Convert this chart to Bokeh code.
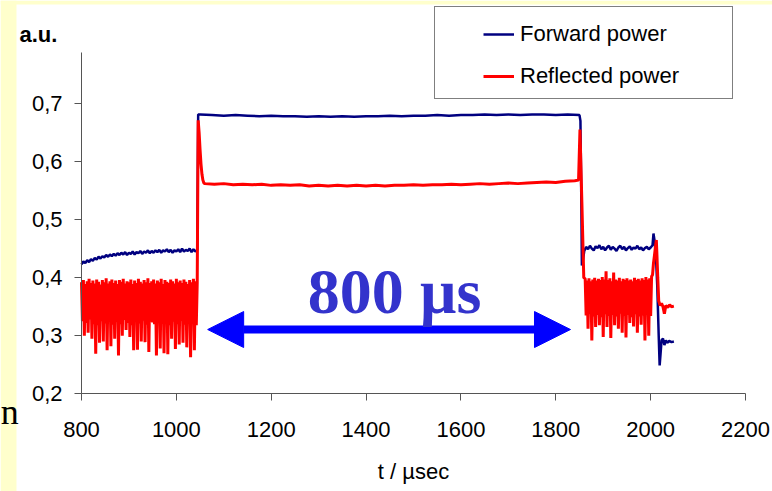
from bokeh.plotting import figure
from bokeh.models import (Range1d, FixedTicker, CustomJSTickFormatter, Legend, LegendItem,
                          Arrow, NormalHead, Label, BoxAnnotation)
from bokeh.embed import file_html
from bokeh.resources import INLINE

# ---------------- data ----------------
x_ticks = [800, 1000, 1200, 1400, 1600, 1800, 2000, 2200]
y_ticks = [0.2, 0.3, 0.4, 0.5, 0.6, 0.7]

# Forward power
fwd_t1 = list(range(800, 1045, 4))
fwd_v1 = [0.423, 0.428, 0.425, 0.430, 0.427, 0.432, 0.429, 0.434, 0.431, 0.436,
          0.433, 0.437, 0.435, 0.439, 0.436, 0.440, 0.437, 0.441, 0.438, 0.442,
          0.439, 0.443, 0.440, 0.444, 0.439, 0.443, 0.441, 0.445, 0.440, 0.444,
          0.442, 0.446, 0.441, 0.445, 0.443, 0.447, 0.442, 0.446, 0.443, 0.447,
          0.444, 0.448, 0.443, 0.447, 0.445, 0.449, 0.444, 0.448, 0.443, 0.447,
          0.445, 0.449, 0.444, 0.450, 0.445, 0.448, 0.446, 0.450, 0.444, 0.449,
          0.445, 0.448]
fwd_t2 = [1046] + list(range(1050, 1851, 25))
fwd_v2 = [0.681,
          0.681, 0.680, 0.679, 0.680, 0.679, 0.678, 0.679, 0.678, 0.678, 0.677,
          0.678, 0.677, 0.678, 0.677, 0.678, 0.678, 0.679, 0.678, 0.679, 0.679,
          0.680, 0.679, 0.680, 0.680, 0.681, 0.680, 0.681, 0.680, 0.681, 0.681,
          0.680, 0.681, 0.680]
fwd_t3 = [1852, 1854, 1855, 1857]
fwd_v3 = [0.670, 0.520, 0.421, 0.428]
fwd_t4 = list(range(1860, 2005, 4))
fwd_v4 = [0.446, 0.453, 0.449, 0.455, 0.450, 0.447, 0.454, 0.451, 0.456, 0.449,
          0.453, 0.447, 0.452, 0.455, 0.448, 0.453, 0.450, 0.446, 0.452, 0.455,
          0.449, 0.453, 0.447, 0.451, 0.454, 0.448, 0.452, 0.450, 0.455, 0.449,
          0.452, 0.447, 0.451, 0.453, 0.449, 0.452, 0.456]
fwd_t5 = [2006, 2008, 2011, 2014, 2017, 2019, 2021, 2023, 2026, 2029, 2032, 2035, 2039, 2044, 2049]
fwd_v5 = [0.476, 0.465, 0.440, 0.385, 0.300, 0.249, 0.270, 0.292, 0.295, 0.284,
          0.292, 0.288, 0.291, 0.289, 0.290]

# Reflected power
red_t1 = list(range(800, 1045, 2))
red_v1 = [0.392, 0.325, 0.396, 0.300, 0.389, 0.322, 0.394, 0.305, 0.398, 0.328,
          0.391, 0.295, 0.395, 0.320, 0.390, 0.269, 0.397, 0.318, 0.393, 0.288,
          0.388, 0.325, 0.396, 0.290, 0.392, 0.321, 0.399, 0.275, 0.390, 0.326,
          0.394, 0.282, 0.397, 0.319, 0.391, 0.295, 0.395, 0.324, 0.389, 0.266,
          0.396, 0.320, 0.393, 0.300, 0.398, 0.327, 0.390, 0.310, 0.394, 0.322,
          0.392, 0.298, 0.397, 0.318, 0.389, 0.275, 0.395, 0.325, 0.391, 0.276,
          0.398, 0.321, 0.393, 0.290, 0.390, 0.326, 0.396, 0.289, 0.392, 0.319,
          0.399, 0.272, 0.391, 0.324, 0.394, 0.323, 0.397, 0.320, 0.390, 0.266,
          0.395, 0.327, 0.392, 0.278, 0.398, 0.321, 0.389, 0.270, 0.396, 0.325,
          0.393, 0.268, 0.391, 0.318, 0.397, 0.295, 0.394, 0.324, 0.390, 0.277,
          0.398, 0.320, 0.392, 0.285, 0.395, 0.326, 0.391, 0.288, 0.397, 0.319,
          0.393, 0.280, 0.389, 0.325, 0.396, 0.263, 0.392, 0.321, 0.398, 0.275,
          0.394, 0.318, 0.391]
red_t2 = [1046, 1048, 1050, 1052, 1054, 1056, 1058]
red_v2 = [0.671, 0.650, 0.620, 0.595, 0.578, 0.568, 0.563]
red_t3 = list(range(1060, 1841, 20))
red_v3 = [0.562, 0.561, 0.562, 0.560, 0.561, 0.560, 0.561, 0.559, 0.560, 0.559,
          0.560, 0.558, 0.559, 0.558, 0.559, 0.558, 0.559, 0.558, 0.559, 0.558,
          0.559, 0.559, 0.560, 0.559, 0.560, 0.560, 0.561, 0.560, 0.561, 0.562,
          0.561, 0.562, 0.563, 0.562, 0.563, 0.564, 0.565, 0.564, 0.566, 0.567]
red_t4 = [1848, 1851, 1855, 1859]
red_v4 = [0.568, 0.655, 0.530, 0.400]
red_t5 = list(range(1862, 2003, 2))
red_v5 = [0.398, 0.335, 0.395, 0.312, 0.399, 0.338, 0.394, 0.292, 0.397, 0.333,
          0.400, 0.315, 0.395, 0.336, 0.398, 0.318, 0.396, 0.332, 0.401, 0.298,
          0.397, 0.337, 0.411, 0.315, 0.396, 0.334, 0.399, 0.296, 0.394, 0.336,
          0.409, 0.318, 0.397, 0.333, 0.395, 0.312, 0.400, 0.338, 0.394, 0.305,
          0.398, 0.334, 0.396, 0.297, 0.399, 0.336, 0.395, 0.322, 0.397, 0.332,
          0.394, 0.316, 0.400, 0.337, 0.396, 0.305, 0.398, 0.333, 0.395, 0.319,
          0.399, 0.335, 0.396, 0.292, 0.401, 0.336, 0.397, 0.300, 0.399, 0.334,
          0.402]
red_t6 = [2004, 2006, 2008, 2010, 2012, 2013, 2015, 2017, 2020, 2023, 2026, 2029, 2032, 2036, 2040, 2044, 2049]
red_v6 = [0.405, 0.425, 0.438, 0.452, 0.465, 0.445, 0.400, 0.360, 0.352, 0.356,
          0.350, 0.338, 0.352, 0.349, 0.353, 0.350, 0.351]

fwd_t = fwd_t1 + fwd_t2 + fwd_t3 + fwd_t4 + fwd_t5
fwd_v = fwd_v1 + fwd_v2 + fwd_v3 + fwd_v4 + fwd_v5
red_t = red_t1 + red_t2 + red_t3 + red_t4 + red_t5 + red_t6
red_v = red_v1 + red_v2 + red_v3 + red_v4 + red_v5 + red_v6

# annotation values
arrow_x0, arrow_x1, arrow_y = 1066, 1831, 0.3107
span_text = "800 µs"
span_text_x, span_text_y = 1460, 0.376

# ---------------- layout constants ----------------
W, H = 772, 491
X0, X1 = 629.22, 2256.93      # whole canvas is the plot frame
Y0, Y1 = 0.03173, 0.87740
AXIS_TOP = 0.7877

p = figure(frame_width=W, frame_height=H, min_border=0,
           min_border_left=0, min_border_right=0, min_border_top=0, min_border_bottom=0,
           x_range=Range1d(X0, X1), y_range=Range1d(Y0, Y1),
           output_backend="svg", toolbar_location=None)
p.border_fill_color = "white"
p.background_fill_color = "white"
p.outline_line_color = None
p.grid.visible = False

# slide background strips (left and top)
p.add_layout(BoxAnnotation(right=662.95, fill_color="#FFFFCC", fill_alpha=1, line_color=None,
                           level="underlay"))
p.add_layout(BoxAnnotation(bottom=0.8705, fill_color="#FFFFCC", fill_alpha=1, line_color=None,
                           level="underlay"))

for ax in (p.xaxis, p.yaxis):
    ax.axis_line_color = "#555555"
    ax.major_tick_line_color = "#555555"
    ax.major_tick_out = 7
    ax.major_tick_in = 0
    ax.minor_tick_line_color = None
    ax.major_label_text_font = "Liberation Sans"
    ax.major_label_text_font_size = "22px"
    ax.major_label_text_color = "black"

p.xaxis.fixed_location = 0.2
p.yaxis.fixed_location = 800
p.xaxis.bounds = (800, 2200)
p.yaxis.bounds = (0.2, AXIS_TOP)
p.xaxis.ticker = FixedTicker(ticks=x_ticks)
p.yaxis.ticker = FixedTicker(ticks=y_ticks)
p.yaxis.formatter = CustomJSTickFormatter(code="return tick.toFixed(1).replace('.', ',');")
p.xaxis.major_label_standoff = 21
p.yaxis.major_label_standoff = 12

r_fwd = p.line(fwd_t, fwd_v, line_color="#000080", line_width=2.5)
r_red = p.line(red_t, red_v, line_color="#FF0000", line_width=3)
dummy = p.line([], [], line_alpha=0)

# legend frame (box) and legend items
leg_box = Legend(items=[LegendItem(label=" ", renderers=[dummy])], location=(434, 392),
                 padding=0, margin=0, glyph_width=1, glyph_height=1, label_standoff=0,
                 label_width=296, label_height=91, label_text_font_size="2px",
                 border_line_color="black", border_line_width=1,
                 background_fill_color="white", background_fill_alpha=1)
leg = Legend(items=[LegendItem(label="Forward power", renderers=[r_fwd]),
                    LegendItem(label="Reflected power", renderers=[r_red])],
             location=(483, 402), padding=0, margin=0, spacing=16,
             glyph_width=31, glyph_height=24, label_height=24, label_standoff=6,
             label_text_font="Liberation Sans", label_text_font_size="22px",
             label_text_color="black", border_line_color=None,
             background_fill_alpha=0)
p.add_layout(leg_box)
p.add_layout(leg)

# arrow and text
head_kw = dict(size=36, fill_color="#0000FF", line_color="#0000FF", line_width=1)
p.add_layout(Arrow(start=NormalHead(**head_kw), end=NormalHead(**head_kw),
                   x_start=arrow_x0, y_start=arrow_y, x_end=arrow_x1, y_end=arrow_y,
                   line_color="#0000FF", line_width=8))
p.add_layout(Label(x=span_text_x, y=span_text_y, text=span_text,
                   text_font="Liberation Serif", text_font_style="bold",
                   text_font_size="64px", text_color="#3333CC",
                   text_align="center", text_baseline="alphabetic"))

# axis titles
p.add_layout(Label(x=669.3, y=0.8185, text="a.u.", text_font="Liberation Sans",
                   text_font_style="bold", text_font_size="22px", text_color="black",
                   text_align="left", text_baseline="alphabetic"))
p.add_layout(Label(x=1500, y=0.0662, text="t / µsec", text_font="Liberation Sans",
                   text_font_size="22px", text_color="black",
                   text_align="center", text_baseline="alphabetic"))
# slide text at the left edge
p.add_layout(Label(x=629.8, y=0.1678, text="n", text_font="Liberation Serif",
                   text_font_size="36px", text_color="black",
                   text_align="left", text_baseline="alphabetic"))

open("out.html", "w").write(file_html(p, INLINE))
